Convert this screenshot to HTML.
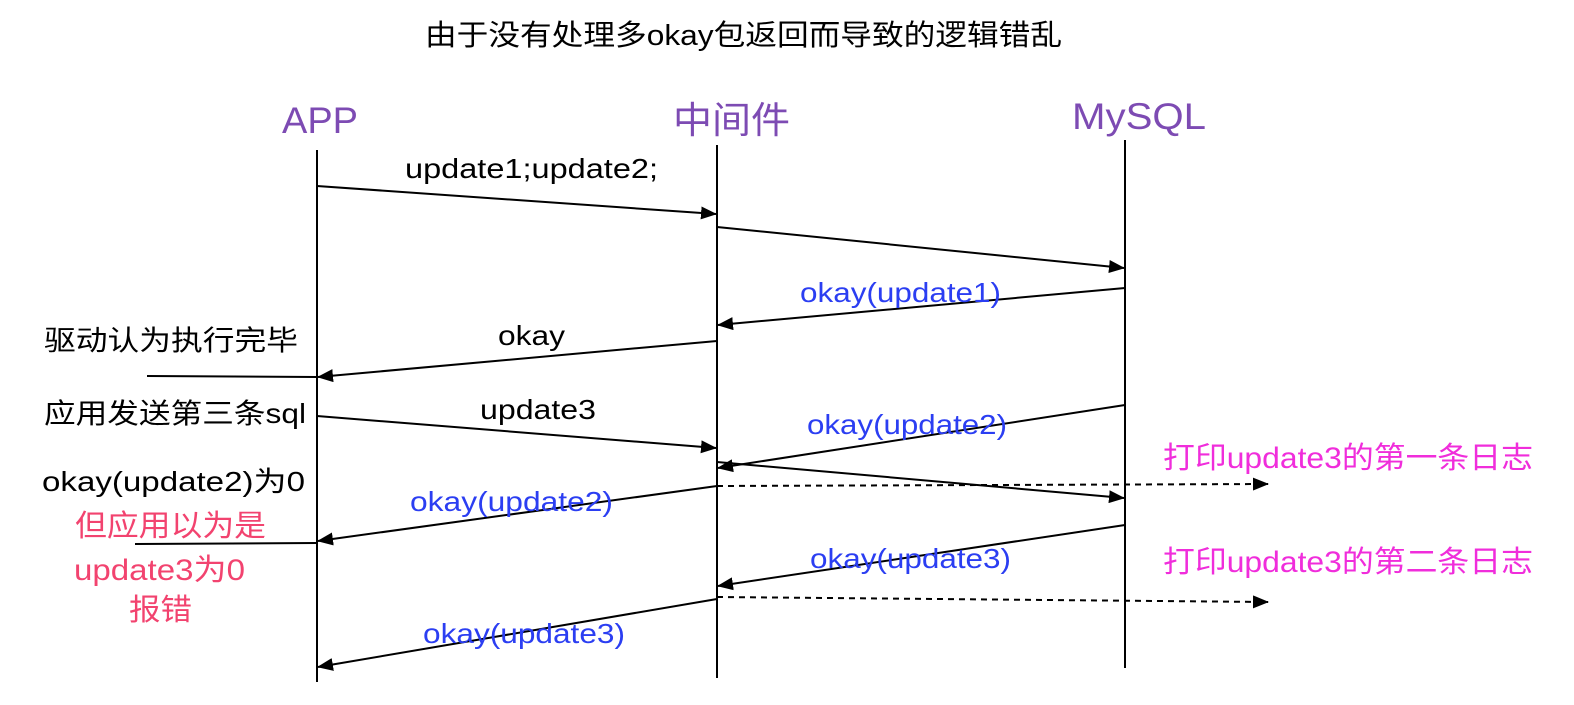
<!DOCTYPE html>
<html><head><meta charset="utf-8"><style>
body{margin:0;background:#fff}
svg text{font-family:"Liberation Sans","Noto Sans CJK SC",sans-serif}
</style></head><body>
<svg width="1574" height="700" xmlns="http://www.w3.org/2000/svg">
<defs><marker id="a" markerWidth="16" markerHeight="13" refX="15" refY="6.5" orient="auto" markerUnits="userSpaceOnUse"><path d="M0,0 L16,6.5 L0,13 z" fill="#000"/></marker></defs>
<text x="425" y="45" font-size="29" textLength="637" lengthAdjust="spacingAndGlyphs">由于没有处理多okay包返回而导致的逻辑错乱</text>
<g font-size="37" fill="#7d4bb3">
<text x="282" y="133" textLength="76" lengthAdjust="spacingAndGlyphs">APP</text><text x="673" y="133" textLength="117" lengthAdjust="spacingAndGlyphs">中间件</text><text x="1072" y="129" textLength="134" lengthAdjust="spacingAndGlyphs">MySQL</text></g>
<g stroke="#000" stroke-width="2" fill="none">
<line x1="317" y1="150" x2="317" y2="682"/><line x1="717" y1="145" x2="717" y2="678"/><line x1="1125" y1="140" x2="1125" y2="668"/>
<line x1="317" y1="186" x2="716" y2="214" marker-end="url(#a)"/>
<line x1="717" y1="227" x2="1124" y2="268" marker-end="url(#a)"/>
<line x1="1125" y1="288" x2="718" y2="325" marker-end="url(#a)"/>
<line x1="717" y1="341" x2="318" y2="377" marker-end="url(#a)"/>
<line x1="147" y1="376" x2="317" y2="377"/>
<line x1="317" y1="416" x2="716" y2="448" marker-end="url(#a)"/>
<line x1="1125" y1="405" x2="718" y2="468" marker-end="url(#a)"/>
<line x1="717" y1="462" x2="1124" y2="498" marker-end="url(#a)"/>
<line x1="717" y1="486" x2="1268" y2="484" stroke-dasharray="6,5" marker-end="url(#a)"/>
<line x1="717" y1="486" x2="318" y2="541" marker-end="url(#a)"/>
<line x1="135" y1="544" x2="317" y2="543"/>
<line x1="1125" y1="525" x2="718" y2="586" marker-end="url(#a)"/>
<line x1="717" y1="597" x2="1268" y2="602" stroke-dasharray="6,5" marker-end="url(#a)"/>
<line x1="717" y1="599" x2="318" y2="667" marker-end="url(#a)"/>
</g>
<g font-size="28">
<text x="405" y="178" textLength="253" lengthAdjust="spacingAndGlyphs">update1;update2;</text>
<text x="498" y="345" textLength="67" lengthAdjust="spacingAndGlyphs">okay</text>
<text x="480" y="419" textLength="116" lengthAdjust="spacingAndGlyphs">update3</text>
<text x="44" y="350" textLength="254" lengthAdjust="spacingAndGlyphs">驱动认为执行完毕</text>
<text x="44" y="423" textLength="262" lengthAdjust="spacingAndGlyphs">应用发送第三条sql</text>
<text x="42" y="491" textLength="263" lengthAdjust="spacingAndGlyphs">okay(update2)为0</text>
</g>
<g font-size="28" fill="#2b3ef2">
<text x="800" y="302" textLength="201" lengthAdjust="spacingAndGlyphs">okay(update1)</text>
<text x="807" y="434" textLength="200" lengthAdjust="spacingAndGlyphs">okay(update2)</text>
<text x="410" y="511" textLength="203" lengthAdjust="spacingAndGlyphs">okay(update2)</text>
<text x="810" y="568" textLength="201" lengthAdjust="spacingAndGlyphs">okay(update3)</text>
<text x="423" y="643" textLength="202" lengthAdjust="spacingAndGlyphs">okay(update3)</text>
</g>
<g font-size="30" fill="#f2436f">
<text x="75" y="536" textLength="191" lengthAdjust="spacingAndGlyphs">但应用以为是</text>
<text x="74" y="580" textLength="171" lengthAdjust="spacingAndGlyphs">update3为0</text>
<text x="129" y="620" textLength="63" lengthAdjust="spacingAndGlyphs">报错</text>
</g>
<g font-size="30" fill="#f02ddb">
<text x="1163" y="468" textLength="370" lengthAdjust="spacingAndGlyphs">打印update3的第一条日志</text>
<text x="1163" y="572" textLength="370" lengthAdjust="spacingAndGlyphs">打印update3的第二条日志</text>
</g>
</svg>
</body></html>
